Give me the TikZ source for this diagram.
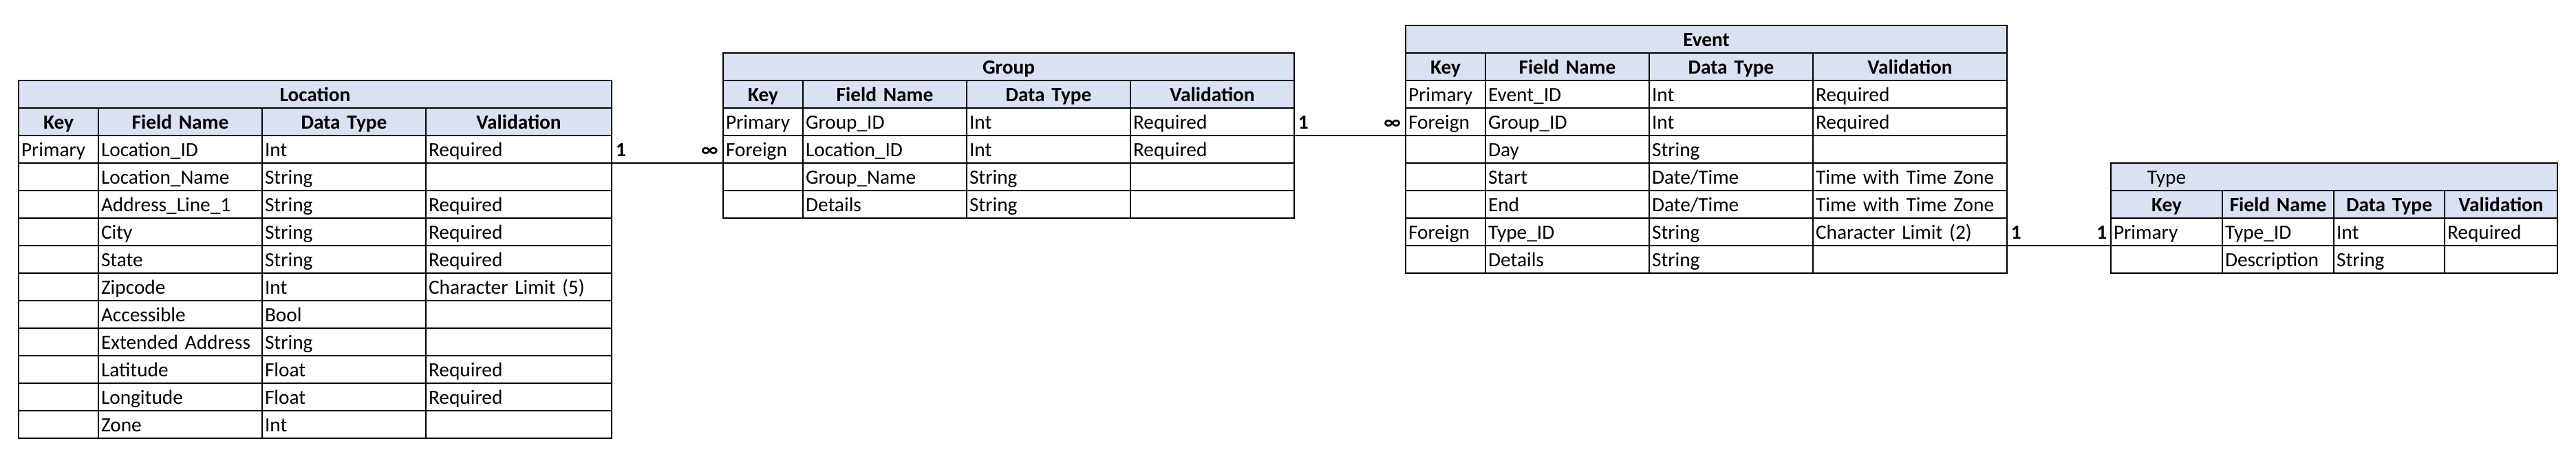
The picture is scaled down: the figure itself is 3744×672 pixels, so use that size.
\documentclass[tikz,border=0pt]{standalone}
\usepackage{fontspec}
\setmainfont{Carlito}
\usetikzlibrary{positioning}
\definecolor{hdrblue}{HTML}{D9E1F2}
\tikzset{
  cell/.style = {rectangle, draw=black, line width=0.6pt, outer sep=0pt,
    inner sep=0pt, inner xsep=1.5pt, minimum height=15pt,
    text height=11.25pt, text depth=3.75pt,
    font=\fontsize{11}{13}\selectfont},% cellule de base
  fld/.style = {cell, minimum width=#1*0.375pt, text width=#1*0.375pt-3pt,
    align=left},% champ, largeur en px
  hdr/.style = {fld=#1, align=center, fill=hdrblue,
    font=\fontsize{11}{13}\selectfont\bfseries},% en-tete de colonne
  ttl/.style = {hdr=#1},% titre de table
  card/.style = {inner sep=0pt, font=\fontsize{11}{13}\selectfont\bfseries},% cardinalite
  conn/.style = {draw=black, line width=0.6pt}% relation
}

\begin{document}
\begin{tikzpicture}[x=0.375pt, y=-0.375pt]
  \useasboundingbox (0,0) rectangle (3744,672);
  % Location
  \node (loc) [ttl=862, anchor=north west] at (27,117) {Location};
  \node (loc-0-1) [hdr=116, below right=0pt of loc.south west] {Key};
  \node (loc-0-2) [hdr=238, right=0pt of loc-0-1] {Field Name};
  \node (loc-0-3) [hdr=238, right=0pt of loc-0-2] {Data Type};
  \node (loc-0-4) [hdr=270, right=0pt of loc-0-3] {Validation};
  \foreach \k/\f/\d/\v [count=\r] in {Primary/Location\_ID/Int/Required,
      /Location\_Name/String/, /Address\_Line\_1/String/Required,
      /City/String/Required, /State/String/Required,
      /Zipcode/Int/Character Limit (5), /Accessible/Bool/,
      /Extended Address/String/, /Latitude/Float/Required,
      /Longitude/Float/Required, /Zone/Int/}{
    \node (loc-\r-1) [fld=116, anchor=north west] at (27,{157+40*\r}) {\k};
    \node (loc-\r-2) [fld=238, right=0pt of loc-\r-1] {\f};
    \node (loc-\r-3) [fld=238, right=0pt of loc-\r-2] {\d};
    \node (loc-\r-4) [fld=270, right=0pt of loc-\r-3] {\v};
  }
  % Group
  \node (grp) [ttl=830, anchor=north west] at (1051,77) {Group};
  \node (grp-0-1) [hdr=116, below right=0pt of grp.south west] {Key};
  \node (grp-0-2) [hdr=238, right=0pt of grp-0-1] {Field Name};
  \node (grp-0-3) [hdr=238, right=0pt of grp-0-2] {Data Type};
  \node (grp-0-4) [hdr=238, right=0pt of grp-0-3] {Validation};
  \foreach \k/\f/\d/\v [count=\r] in {Primary/Group\_ID/Int/Required,
      Foreign/Location\_ID/Int/Required, /Group\_Name/String/,
      /Details/String/}{
    \node (grp-\r-1) [fld=116, anchor=north west] at (1051,{117+40*\r}) {\k};
    \node (grp-\r-2) [fld=238, right=0pt of grp-\r-1] {\f};
    \node (grp-\r-3) [fld=238, right=0pt of grp-\r-2] {\d};
    \node (grp-\r-4) [fld=238, right=0pt of grp-\r-3] {\v};
  }
  % Event
  \node (evt) [ttl=874, anchor=north west] at (2043,37) {Event};
  \node (evt-0-1) [hdr=116, below right=0pt of evt.south west] {Key};
  \node (evt-0-2) [hdr=238, right=0pt of evt-0-1] {Field Name};
  \node (evt-0-3) [hdr=238, right=0pt of evt-0-2] {Data Type};
  \node (evt-0-4) [hdr=282, right=0pt of evt-0-3] {Validation};
  \foreach \k/\f/\d/\v [count=\r] in {Primary/Event\_ID/Int/Required,
      Foreign/Group\_ID/Int/Required, /Day/String/,
      /Start/Date\slash Time/Time with Time Zone,
      /End/Date\slash Time/Time with Time Zone,
      Foreign/Type\_ID/String/Character Limit (2), /Details/String/}{
    \node (evt-\r-1) [fld=116, anchor=north west] at (2043,{77+40*\r}) {\k};
    \node (evt-\r-2) [fld=238, right=0pt of evt-\r-1] {\f};
    \node (evt-\r-3) [fld=238, right=0pt of evt-\r-2] {\d};
    \node (evt-\r-4) [fld=282, right=0pt of evt-\r-3] {\v};
  }
  % Type
  \node (typ) [ttl=649, anchor=north west, align=left,
    font=\fontsize{11}{13}\selectfont] at (3068,237) {\makebox[57.75pt]{Type}};
  \node (typ-0-1) [hdr=162, below right=0pt of typ.south west] {Key};
  \node (typ-0-2) [hdr=162, right=0pt of typ-0-1] {Field Name};
  \node (typ-0-3) [hdr=161, right=0pt of typ-0-2] {Data Type};
  \node (typ-0-4) [hdr=164, right=0pt of typ-0-3] {Validation};
  \foreach \k/\f/\d/\v [count=\r] in {Primary/Type\_ID/Int/Required,
      /Description/String/}{
    \node (typ-\r-1) [fld=162, anchor=north west] at (3068,{277+40*\r}) {\k};
    \node (typ-\r-2) [fld=162, right=0pt of typ-\r-1] {\f};
    \node (typ-\r-3) [fld=161, right=0pt of typ-\r-2] {\d};
    \node (typ-\r-4) [fld=164, right=0pt of typ-\r-3] {\v};
  }
  % relations
  \draw [conn] (loc-1-4.south east) -- (grp-2-1.south west);
  \draw [conn] (grp-1-4.south east) -- (evt-2-1.south west);
  \draw [conn] (evt-6-4.south east) -- (typ-1-1.south west);
  \node (c-loc) [card, base right=2pt of loc-1-4.base east] {1};
  \node (c-grp-n) [card, base left=2.5pt of grp-2-1.base west] {∞};
  \node (c-grp) [card, base right=2pt of grp-1-4.base east] {1};
  \node (c-evt-n) [card, base left=2.5pt of evt-2-1.base west] {∞};
  \node (c-evt) [card, base right=2pt of evt-6-4.base east] {1};
  \node (c-typ) [card, base left=2pt of typ-1-1.base west] {1};
\end{tikzpicture}
\end{document}
